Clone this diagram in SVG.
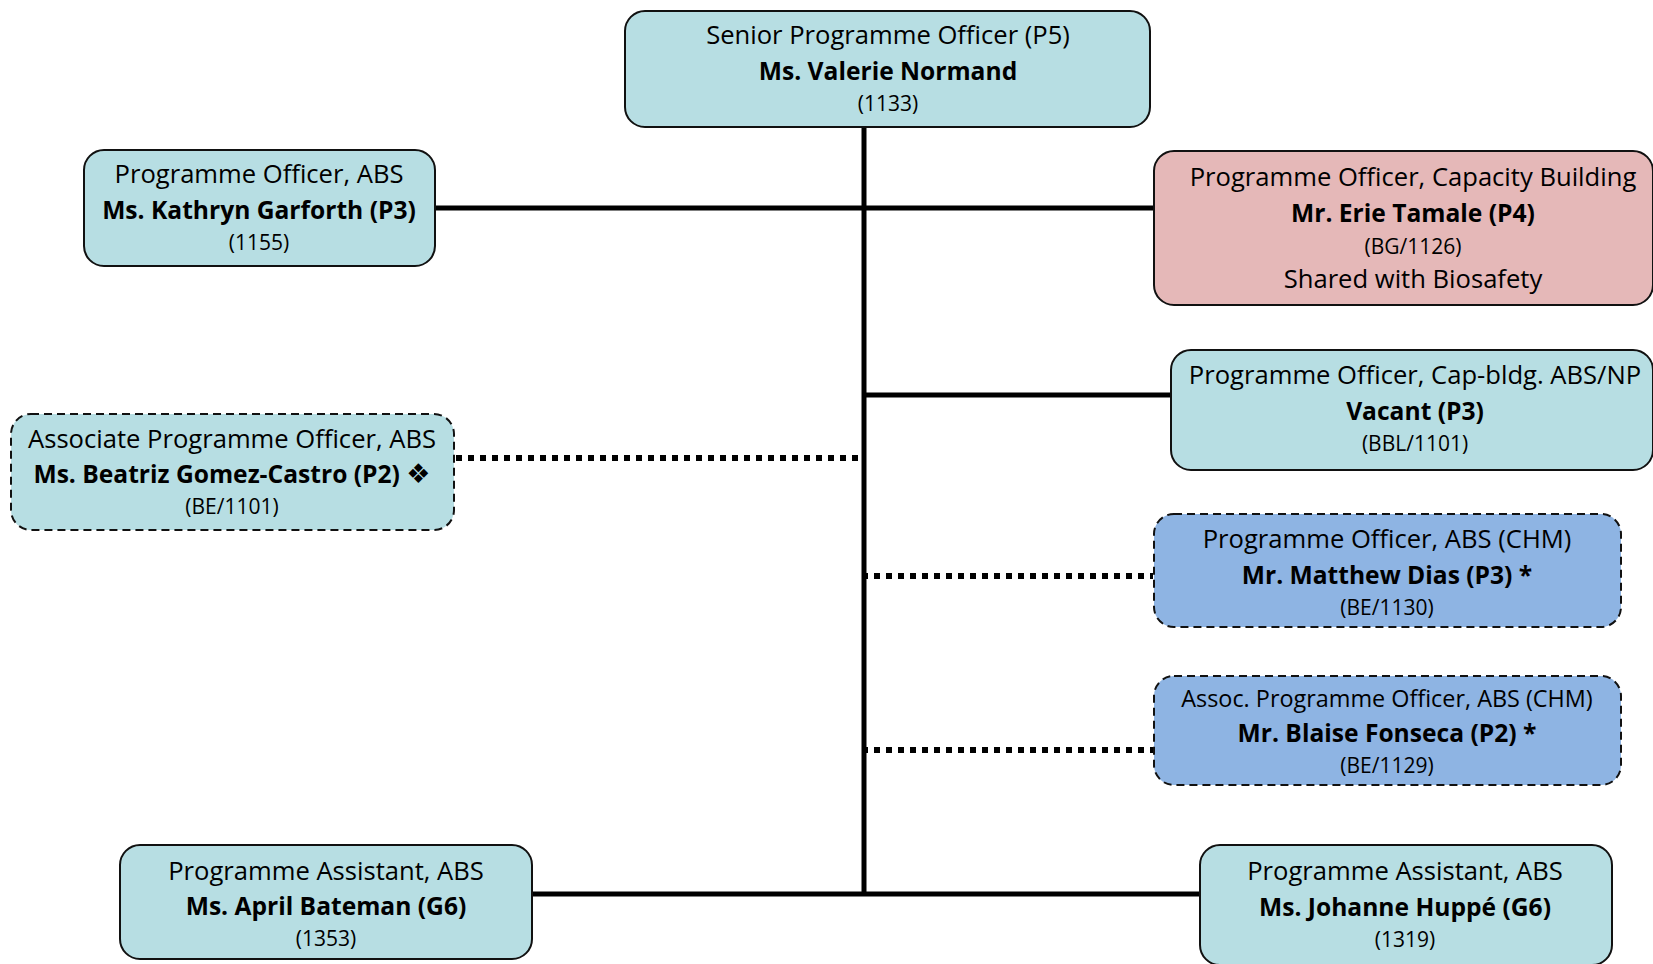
<svg xmlns="http://www.w3.org/2000/svg" width="1653" height="964" viewBox="0 0 1653 964">
<style>
.box{stroke:#111;stroke-width:2}
.dash{stroke-dasharray:8 5}
.teal{fill:#B7DEE3}
.pink{fill:#E5B8B8}
.blue{fill:#8EB4E3}
text{font-family:"Open Sans","Liberation Sans",sans-serif;fill:#000;text-anchor:middle}
.t{font-size:25.6px}
.ts{font-size:23.4px}
.b{font-size:24.6px;font-weight:bold}
.c{font-size:21px}
.sym{font-family:"DejaVu Sans",sans-serif;font-weight:normal;font-size:27px}
.solid{stroke:#000;stroke-width:5;fill:none}
.dot{stroke:#000;stroke-width:6;stroke-dasharray:6 6;fill:none}
</style>
<rect width="1653" height="964" fill="#fff"/>
<g id="connectors">
<line class="solid" x1="864" y1="126" x2="864" y2="896"/>
<line class="solid" x1="435" y1="208" x2="1154" y2="208"/>
<line class="solid" x1="864" y1="395" x2="1171" y2="395"/>
<line class="solid" x1="532" y1="894" x2="1200" y2="894"/>
<line class="dot" x1="456" y1="458" x2="860" y2="458"/>
<line class="dot" x1="862" y1="576" x2="1153" y2="576"/>
<line class="dot" x1="862" y1="750" x2="1153" y2="750"/>
</g>
<g id="n-normand">
<rect class="box teal" x="625" y="11" width="525" height="116" rx="20"/>
<text class="t" x="888" y="44">Senior Programme Officer (P5)</text>
<text class="b" x="888" y="80">Ms. Valerie Normand</text>
<text class="c" x="888" y="111">(1133)</text>
</g>
<g id="n-garforth">
<rect class="box teal" x="84" y="150" width="351" height="116" rx="20"/>
<text class="t" x="259" y="183">Programme Officer, ABS</text>
<text class="b" x="259" y="219">Ms. Kathryn Garforth (P3)</text>
<text class="c" x="259" y="250">(1155)</text>
</g>
<g id="n-tamale">
<rect class="box pink" x="1154" y="151" width="499" height="154" rx="20"/>
<text class="t" x="1413" y="186">Programme Officer, Capacity Building</text>
<text class="b" x="1413" y="222">Mr. Erie Tamale (P4)</text>
<text class="c" x="1413" y="254">(BG/1126)</text>
<text class="t" x="1413" y="288">Shared with Biosafety</text>
</g>
<g id="n-vacant">
<rect class="box teal" x="1171" y="350" width="482" height="120" rx="20"/>
<text class="t" x="1415" y="384">Programme Officer, Cap-bldg. ABS/NP</text>
<text class="b" x="1415" y="420">Vacant (P3)</text>
<text class="c" x="1415" y="451">(BBL/1101)</text>
</g>
<g id="n-gomez">
<rect class="box teal dash" x="11" y="414" width="443" height="116" rx="20"/>
<text class="t" x="232" y="448">Associate Programme Officer, ABS</text>
<text class="b" x="232" y="483">Ms. Beatriz Gomez-Castro (P2) <tspan class="sym">❖</tspan></text>
<text class="c" x="232" y="514">(BE/1101)</text>
</g>
<g id="n-dias">
<rect class="box blue dash" x="1154" y="514" width="467" height="113" rx="20"/>
<text class="t" x="1387" y="548">Programme Officer, ABS (CHM)</text>
<text class="b" x="1387" y="584">Mr. Matthew Dias (P3) *</text>
<text class="c" x="1387" y="615">(BE/1130)</text>
</g>
<g id="n-fonseca">
<rect class="box blue dash" x="1154" y="676" width="467" height="109" rx="20"/>
<text class="ts" x="1387" y="707">Assoc. Programme Officer, ABS (CHM)</text>
<text class="b" x="1387" y="742">Mr. Blaise Fonseca (P2) *</text>
<text class="c" x="1387" y="773">(BE/1129)</text>
</g>
<g id="n-bateman">
<rect class="box teal" x="120" y="845" width="412" height="114" rx="20"/>
<text class="t" x="326" y="880">Programme Assistant, ABS</text>
<text class="b" x="326" y="915">Ms. April Bateman (G6)</text>
<text class="c" x="326" y="946">(1353)</text>
</g>
<g id="n-huppe">
<rect class="box teal" x="1200" y="845" width="412" height="120" rx="20"/>
<text class="t" x="1405" y="880">Programme Assistant, ABS</text>
<text class="b" x="1405" y="916">Ms. Johanne Huppé (G6)</text>
<text class="c" x="1405" y="947">(1319)</text>
</g>
</svg>
